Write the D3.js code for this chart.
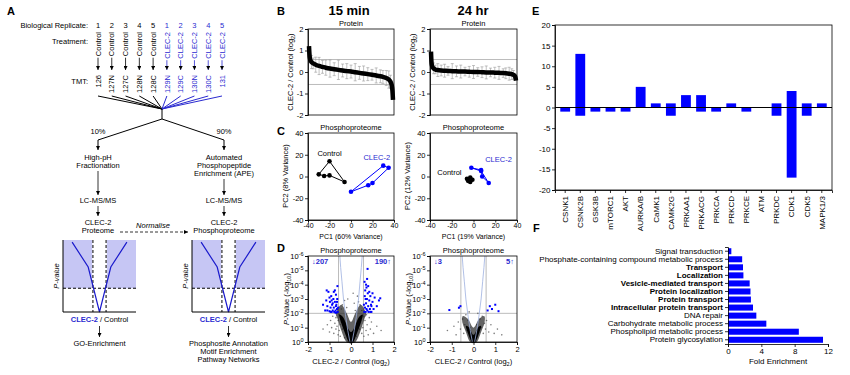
<!DOCTYPE html>
<html>
<head>
<meta charset="utf-8">
<script src="https://cdn.jsdelivr.net/npm/d3@7"></script>
<style>
  body { margin: 0; background: #fff; }
  text { font-family: "Liberation Sans", Arial, Helvetica, sans-serif; }
</style>
</head>
<body>
<svg id="fig" width="850" height="375"></svg>
<script>
// ---------- data ----------
const replicates = [1, 2, 3, 4, 5, 1, 2, 3, 4, 5];
const treatments = ['Control', 'Control', 'Control', 'Control', 'Control', 'CLEC-2', 'CLEC-2', 'CLEC-2', 'CLEC-2', 'CLEC-2'];
const tmtTags = ['126', '127N', '127C', '128N', '128C', '129N', '129C', '130N', '130C', '131'];

// schematic volcano (panel A), unitless
const schemCurve = [[-0.75, 0.97], [-0.31, 0.625], [0, 0], [0.31, 0.625], [0.75, 0.97]];

// B: ranked protein ratios (rank in % of proteins)
const rankPct = [0, 0.5, 1, 2, 3, 5, 8, 12, 16, 20, 25, 30, 35, 40, 45, 50, 55, 60, 65, 70, 75, 80, 85, 88, 92, 95, 97, 98.5, 99.3, 100];
const ratio15 = [1.2, 0.85, 0.65, 0.52, 0.46, 0.4, 0.34, 0.28, 0.24, 0.2, 0.16, 0.13, 0.1, 0.07, 0.04, 0.02, -0.01, -0.04, -0.07, -0.1, -0.13, -0.16, -0.2, -0.23, -0.28, -0.35, -0.45, -0.62, -0.85, -1.3];
const err15 = [0, 0, 0, 0, 0.3, 0.25, 0.35, 0.4, 0.3, 0.35, 0.4, 0.3, 0.45, 0.3, 0.35, 0.3, 0.4, 0.3, 0.35, 0.3, 0.25, 0.35, 0.3, 0.3, 0.35, 0.4, 0.3, 0, 0, 0];
const ratio24 = [0.95, 0.5, 0.32, 0.22, 0.17, 0.12, 0.09, 0.07, 0.06, 0.05, 0.04, 0.03, 0.02, 0.02, 0.01, 0, 0, -0.01, -0.02, -0.02, -0.03, -0.04, -0.05, -0.06, -0.08, -0.1, -0.13, -0.18, -0.25, -0.4];
const err24 = [0, 0, 0, 0, 0.25, 0.2, 0.3, 0.25, 0.3, 0.2, 0.35, 0.25, 0.3, 0.2, 0.25, 0.3, 0.2, 0.25, 0.3, 0.2, 0.25, 0.3, 0.2, 0.25, 0.3, 0.25, 0.2, 0, 0, 0];

// C: PCA scores (listed in outline order)
const pcaCtrl15 = [[-30, 2], [-20, 14], [-6, -5], [-20, 1], [-25, 0.5]];
const pcaClec15 = [[0, -14], [30, 10], [35, 8], [20, -6], [16, -8]];
const pcaCtrl24 = [[-6, -2], [-3, -1], [-1, -3], [-3, -5], [-5, -4]];
const pcaClec24 = [[-2, 8], [7, 6], [8, 0], [14, -6], [7, 5]];

// D: volcano, [log2 ratio, -log10 p]
const volGrey15 = [[-1.3, 0.9], [-1.1, 1.2], [-1.0, 0.7], [-0.95, 1.5], [-0.9, 1.0], [-0.85, 1.8], [-0.8, 0.6], [-0.75, 1.3], [-0.7, 0.9], [-0.7, 1.7], [-0.65, 1.1], [-0.6, 0.5], [-0.6, 1.5], [-0.55, 0.8], [-0.55, 1.9], [-0.5, 1.2], [-0.5, 0.4], [-0.45, 1.6], [-0.45, 2.3], [-0.4, 0.9], [-0.4, 2.6], [-0.35, 1.4], [-0.3, 2.9], [-0.3, 0.3], [-0.25, 1.9], [-0.2, 2.4], [-0.15, 3.0],
  [1.4, 0.8], [1.2, 1.1], [1.05, 0.6], [0.95, 1.4], [0.9, 0.9], [0.85, 1.7], [0.8, 0.5], [0.75, 1.2], [0.72, 1.9], [0.7, 0.8], [0.65, 1.5], [0.6, 0.4], [0.6, 1.8], [0.55, 1.0], [0.5, 2.2], [0.5, 0.6], [0.45, 1.5], [0.42, 2.6], [0.4, 0.9], [0.35, 2.8], [0.3, 1.3], [0.3, 3.2], [0.25, 0.4], [0.2, 2.2], [0.15, 2.7], [0.1, 3.4]];
const volBlue15 = [[-0.62, 2.1], [-0.65, 2.3], [-0.68, 2.05], [-0.7, 2.5], [-0.72, 2.2], [-0.75, 2.8], [-0.78, 2.1], [-0.8, 2.4], [-0.82, 3.0], [-0.85, 2.2], [-0.88, 2.6], [-0.9, 2.1], [-0.92, 3.2], [-0.95, 2.4], [-0.98, 2.8], [-1.0, 2.15], [-1.05, 3.5], [-1.1, 2.5], [-1.15, 2.9], [-1.2, 2.2], [-1.3, 2.6], [-0.65, 2.8], [-0.7, 3.3], [-0.75, 3.6], [-0.68, 2.6], [-0.64, 3.0], [-0.6, 2.4], [-0.63, 3.9], [-0.8, 3.5], [-0.9, 2.9], [-0.72, 2.05], [-0.85, 2.7], [-1.0, 3.1], [-1.1, 2.2], [-0.95, 2.1], [-1.13, 3.6],
  [0.62, 2.1], [0.65, 2.4], [0.68, 2.1], [0.7, 2.7], [0.72, 2.3], [0.74, 3.0], [0.76, 2.2], [0.78, 3.4], [0.8, 2.5], [0.82, 2.1], [0.85, 2.9], [0.88, 2.3], [0.9, 3.2], [0.93, 2.6], [0.95, 2.1], [1.0, 2.8], [1.05, 2.3], [1.1, 3.1], [1.2, 2.5], [1.3, 2.9], [1.36, 3.05], [0.66, 3.6], [0.7, 4.0], [0.75, 4.4], [0.77, 5.1], [0.64, 3.2], [0.68, 3.0], [0.72, 3.8], [0.8, 3.9], [0.85, 3.5], [0.6, 2.6], [0.9, 2.1], [1.0, 3.4], [0.63, 4.2], [0.95, 2.5]];
const volCoreOuter15 = [[-0.2, 0], [0.2, 0], [0.45, 0.8], [0.62, 1.6], [0.7, 2.0], [0.45, 2.6], [0.2, 2.0], [0, 1.4], [-0.2, 2.0], [-0.45, 2.6], [-0.7, 2.0], [-0.62, 1.6], [-0.45, 0.8]];
const volCoreInner15 = [[-0.1, 0], [0.1, 0], [0.3, 0.7], [0.45, 1.3], [0.55, 1.9], [0.35, 1.7], [0.15, 1.0], [0, 0.7], [-0.15, 1.0], [-0.35, 1.7], [-0.55, 1.9], [-0.45, 1.3], [-0.3, 0.7]];
const volGrey24 = [[-1.2, 0.8], [-0.9, 1.1], [-0.8, 0.5], [-0.7, 1.4], [-0.6, 0.9], [-0.5, 1.6], [-0.45, 0.6], [-0.4, 1.2], [-0.35, 1.9], [-0.3, 0.8], [-0.25, 1.5], [-0.2, 2.1], [-0.15, 1.0],
  [0.15, 1.2], [0.2, 2.0], [0.25, 0.7], [0.3, 1.6], [0.35, 1.0], [0.4, 1.8], [0.45, 0.6], [0.5, 1.3], [0.55, 0.9], [0.6, 1.5], [0.7, 0.7], [0.8, 1.2], [0.95, 0.6], [1.1, 0.9], [1.3, 0.5]];
const volBlue24 = [[-1.11, 2.23], [-0.67, 2.39], [-0.6, 2.5], [0.65, 2.2], [0.75, 2.5], [0.85, 2.3], [1.0, 2.6], [1.15, 2.15]];
const volCoreOuter24 = [[-0.15, 0], [0.15, 0], [0.35, 0.7], [0.5, 1.3], [0.5, 1.8], [0.25, 1.6], [0, 1.0], [-0.25, 1.6], [-0.5, 1.8], [-0.5, 1.3], [-0.35, 0.7]];
const volCoreInner24 = [[-0.08, 0], [0.08, 0], [0.25, 0.6], [0.35, 1.1], [0.2, 1.0], [0, 0.5], [-0.2, 1.0], [-0.35, 1.1], [-0.25, 0.6]];
const volGuide = [[0.05, 0], [0.15, 0.8], [0.25, 1.8], [0.35, 3.0], [0.42, 4.2], [0.48, 5.2], [0.52, 6]];
const volCounts15 = ['207', '190'];
const volCounts24 = ['3', '5'];

// E: kinase activity
const kinases = ['CSNK1', 'CSNK2B', 'GSK3B', 'mTORC1', 'AKT', 'AURKA/B', 'CaMK1', 'CAMK2G', 'PRKAA1', 'PRKACG', 'PRKCA', 'PRKCD', 'PRKCE', 'ATM', 'PRKDC', 'CDK1', 'CDK5', 'MAPK1/3'];
const kinUp = [0, 13, 0, 0, 0, 5, 1, 1, 3, 3, 0, 1, 0, 0, 1, 4, 1, 1];
const kinDown = [-1, -2, -1, -1, -1, 0, 0, -2, 0, -1, -1, 0, -1, 0, -2, -17, -2, 0];

// F: GO enrichment
const goTerms = ['Signal transduction', 'Phosphate-containing compound metabolic process', 'Transport', 'Localization', 'Vesicle-mediated transport', 'Protein localization', 'Protein transport', 'Intracellular protein transport', 'DNA repair', 'Carbohydrate metabolic process', 'Phospholipid metabolic process', 'Protein glycosylation'];
const goFold = [0.4, 1.7, 1.8, 1.85, 2.6, 2.7, 2.75, 3.0, 3.4, 4.6, 8.5, 11.4];
const goBold = [0, 0, 1, 1, 1, 1, 1, 1, 0, 0, 0, 0];

// ---------- helpers ----------
const FONT = '"Liberation Sans", Arial, Helvetica, sans-serif';
const FS = 7.5;
const BLUE = '#0000ff';
const TBLUE = '#2a2ad0';
const svg = d3.select('#fig');

const defs = svg.append('defs');
defs.append('marker').attr('id', 'arr')
  .attr('viewBox', '0 0 6 6').attr('refX', 6).attr('refY', 3)
  .attr('markerUnits', 'userSpaceOnUse')
  .attr('markerWidth', 4).attr('markerHeight', 4).attr('orient', 'auto')
  .append('path').attr('d', 'M0,0L6,3L0,6z').attr('fill', '#000');

const txt = (g, x, y, s, o = {}) => {
  const t = g.append('text').attr('x', x).attr('y', y).text(s)
    .attr('font-size', o.size || FS)
    .attr('text-anchor', o.anchor || 'middle')
    .attr('fill', o.fill || '#000');
  if (o.weight) t.attr('font-weight', o.weight);
  if (o.style) t.attr('font-style', o.style);
  if (o.rotate) t.attr('transform', `rotate(${o.rotate},${x},${y})`);
  return t;
};

const line = (g, x1, y1, x2, y2, o = {}) => g.append('line')
  .attr('x1', x1).attr('y1', y1).attr('x2', x2).attr('y2', y2)
  .attr('stroke', o.stroke || '#000').attr('stroke-width', o.w || 0.8)
  .attr('stroke-dasharray', o.dash || null)
  .attr('marker-end', o.arrow ? 'url(#arr)' : null);

const styleAxis = (g, size = FS) => {
  g.attr('font-size', size).attr('font-family', FONT);
  g.selectAll('.domain').attr('stroke-width', 0.8);
  g.selectAll('.tick line').attr('stroke-width', 0.8);
  return g;
};

const frame = (g, x0, y0, x1, y1) => g.append('rect')
  .attr('x', x0).attr('y', y0).attr('width', x1 - x0).attr('height', y1 - y0)
  .attr('fill', 'none').attr('stroke', '#000').attr('stroke-width', 0.8);

// ---------- panel A ----------
const a = svg.append('g');
txt(a, 7, 15, 'A', {size: 11, weight: 'bold', anchor: 'start'});
txt(a, 88, 28, 'Biological Replicate:', {anchor: 'end'});
txt(a, 88, 44, 'Treatment:', {anchor: 'end'});
txt(a, 88, 84, 'TMT:', {anchor: 'end'});

const colX = d3.scalePoint().domain(d3.range(tmtTags.length)).range([98, 222]);
tmtTags.forEach((tag, i) => {
  const x = colX(i);
  const col = i < 5 ? '#000' : TBLUE;
  txt(a, x, 28, replicates[i], {fill: col});
  const tr = txt(a, x + 2.7, 32, treatments[i], {anchor: 'end', fill: col, rotate: -90});
  const len = tr.node().getComputedTextLength();
  line(a, x, 32 + len + 1.5, x, 70, {stroke: col, arrow: true});
  txt(a, x + 2.7, 75, tag, {anchor: 'end', fill: col, rotate: -90});
  line(a, x, 96, 162, 109, {stroke: col, w: 1});
});
line(a, 162, 109, 162, 119, {w: 1});
a.append('path').attr('d', 'M162,119L98,140L98,150').attr('fill', 'none').attr('stroke', '#000').attr('stroke-width', 1).attr('marker-end', 'url(#arr)');
a.append('path').attr('d', 'M162,119L224,140L224,150').attr('fill', 'none').attr('stroke', '#000').attr('stroke-width', 1).attr('marker-end', 'url(#arr)');
txt(a, 98, 134, '10%');
txt(a, 224, 134, '90%');

txt(a, 98, 160, 'High-pH');
txt(a, 98, 168, 'Fractionation');
line(a, 98, 171, 98, 195, {arrow: true});
txt(a, 98, 203, 'LC-MS/MS');
line(a, 98, 206, 98, 216, {arrow: true});
txt(a, 98, 225, 'CLEC-2');
txt(a, 98, 233, 'Proteome');

txt(a, 224, 160, 'Automated');
txt(a, 224, 168, 'Phosphopeptide');
txt(a, 224, 176, 'Enrichment (APE)');
line(a, 224, 179, 224, 195, {arrow: true});
txt(a, 224, 203, 'LC-MS/MS');
line(a, 224, 206, 224, 216, {arrow: true});
txt(a, 224, 225, 'CLEC-2');
txt(a, 224, 233, 'Phosphoproteome');

txt(a, 153, 228, 'Normalise', {style: 'italic'});
line(a, 120, 232, 188, 232, {dash: '3,2', arrow: true});

const drawSchem = (cx, outLines) => {
  const x = d3.scaleLinear().domain([-1, 1]).range([cx - 36.5, cx + 36.5]);
  const y = d3.scaleLinear().domain([0, 1]).range([312, 240]);
  a.append('rect').attr('x', x(-1)).attr('y', y(1)).attr('width', x(-0.2) - x(-1)).attr('height', y(0.33) - y(1)).attr('fill', '#c6c6f4');
  a.append('rect').attr('x', x(0.2)).attr('y', y(1)).attr('width', x(1) - x(0.2)).attr('height', y(0.33) - y(1)).attr('fill', '#c6c6f4');
  line(a, x(-1), y(0.33), x(1), y(0.33), {dash: '3,2', w: 1});
  line(a, x(-0.18), y(1), x(-0.18), y(0), {dash: '3,2', w: 1});
  line(a, x(0.18), y(1), x(0.18), y(0), {dash: '3,2', w: 1});
  a.append('path').datum(schemCurve)
    .attr('d', d3.line().x(d => x(d[0])).y(d => y(d[1])))
    .attr('fill', 'none').attr('stroke', '#1a1acc').attr('stroke-width', 1.2);
  line(a, x(-1), y(1), x(-1), y(0), {w: 1});
  line(a, x(-1), y(0), x(1), y(0), {w: 1});
  txt(a, x(-1) - 4, 276, 'P-value', {style: 'italic', rotate: -90});
  const lab = a.append('text').attr('x', cx).attr('y', 322).attr('text-anchor', 'middle').attr('font-size', FS);
  lab.append('tspan').attr('fill', TBLUE).attr('font-weight', 'bold').text('CLEC-2');
  lab.append('tspan').text(' / Control');
  line(a, cx, 326, cx, 337, {arrow: true});
  outLines.forEach((s, i) => txt(a, cx, 346 + i * 8, s));
};
drawSchem(99.5, ['GO-Enrichment']);
drawSchem(228.5, ['Phosphosite Annotation', 'Motif Enrichment', 'Pathway Networks']);

// ---------- panel B ----------
const b = svg.append('g');
txt(b, 277, 15, 'B', {size: 11, weight: 'bold', anchor: 'start'});
txt(b, 349, 15, '15 min', {size: 13, weight: 'bold'});
txt(b, 473, 15, '24 hr', {size: 13, weight: 'bold'});

const ylabLog2 = (g, x, y) => {
  const t = g.append('text').attr('transform', `translate(${x},${y}) rotate(-90)`).attr('text-anchor', 'middle').attr('font-size', FS);
  t.append('tspan').text('CLEC-2 / Control (log');
  t.append('tspan').attr('font-size', 5.5).attr('dy', 2).text('2');
  t.append('tspan').attr('dy', -2).text(')');
};

const rankPlot = (x0, x1, vals, errs) => {
  const g = svg.append('g');
  const x = d3.scaleLinear().domain([0, 100]).range([x0 + 1, x1 - 1]);
  const y = d3.scaleLinear().domain([-2, 2]).range([115, 29]);
  txt(g, (x0 + x1) / 2, 26, 'Protein');
  line(g, x0, y(0.58), x1, y(0.58), {stroke: '#aaa'});
  line(g, x0, y(-0.58), x1, y(-0.58), {stroke: '#aaa'});
  rankPct.forEach((r, i) => {
    if (!errs[i]) return;
    const xx = x(r), lo = y(vals[i] - errs[i]), hi = y(vals[i] + errs[i]);
    line(g, xx, lo, xx, hi, {stroke: '#999', w: 0.6});
    line(g, xx - 1.5, lo, xx + 1.5, lo, {stroke: '#999', w: 0.6});
    line(g, xx - 1.5, hi, xx + 1.5, hi, {stroke: '#999', w: 0.6});
  });
  g.append('path').datum(rankPct.map((r, i) => [r, vals[i]]))
    .attr('d', d3.line().curve(d3.curveMonotoneX).x(d => x(d[0])).y(d => y(d[1])))
    .attr('fill', 'none').attr('stroke', '#000').attr('stroke-width', 4.5);
  frame(g, x0, 29, x1, 115);
  styleAxis(g.append('g').attr('transform', `translate(${x0},0)`)
    .call(d3.axisLeft(y).tickValues([-2, -1, 0, 1, 2]).tickSize(3).tickPadding(1.5).tickFormat(d => String(d))));
  ylabLog2(g, x0 - 15, 72);
};
rankPlot(308, 394, ratio15, err15);
rankPlot(430, 517, ratio24, err24);

// ---------- panel C ----------
txt(svg, 277, 135, 'C', {size: 11, weight: 'bold', anchor: 'start'});
const pcaPlot = (x0, x1, ctrl, clec, xlab, ylab, labs) => {
  const g = svg.append('g');
  const x = d3.scaleLinear().domain([-40, 40]).range([x0, x1]);
  const y = d3.scaleLinear().domain([-40, 40]).range([220, 133]);
  txt(g, (x0 + x1) / 2, 130, 'Phosphoproteome');
  frame(g, x0, 133, x1, 220);
  styleAxis(g.append('g').attr('transform', `translate(${x0},0)`)
    .call(d3.axisLeft(y).tickValues([-40, -20, 0, 20, 40]).tickSize(3).tickPadding(1.5).tickFormat(d => String(d))));
  styleAxis(g.append('g').attr('transform', 'translate(0,220)')
    .call(d3.axisBottom(x).tickValues([-40, -20, 0, 20, 40]).tickSize(2.5).tickPadding(1).tickFormat(d => String(d))), 7);
  [[ctrl, '#000'], [clec, BLUE]].forEach(([pts, col]) => {
    g.append('path').datum(pts)
      .attr('d', d3.line().x(d => x(d[0])).y(d => y(d[1])).curve(d3.curveLinearClosed))
      .attr('fill', 'none').attr('stroke', col).attr('stroke-width', 1);
    g.selectAll(null).data(pts).join('circle')
      .attr('cx', d => x(d[0])).attr('cy', d => y(d[1])).attr('r', 2.3).attr('fill', col);
  });
  txt(g, x(labs[0][0]), y(labs[0][1]), 'Control', {anchor: labs[0][2]});
  txt(g, x(labs[1][0]), y(labs[1][1]), 'CLEC-2', {fill: TBLUE, anchor: labs[1][2]});
  txt(g, (x0 + x1) / 2, 239, xlab, {size: 7});
  txt(g, x0 - 20, 176, ylab, {rotate: -90});
};
pcaPlot(308, 394, pcaCtrl15, pcaClec15, 'PC1 (60% Variance)', 'PC2 (8% Variance)', [[-20, 19, 'middle'], [24, 15, 'middle']]);
pcaPlot(430, 517, pcaCtrl24, pcaClec24, 'PC1 (19% Variance)', 'PC2 (12% Variance)', [[-11, 1, 'end'], [23, 13, 'middle']]);

// ---------- panel D ----------
txt(svg, 277, 252, 'D', {size: 11, weight: 'bold', anchor: 'start'});
const volcano = (x0, x1, grey, blue, outer, inner, counts) => {
  const g = svg.append('g');
  const x = d3.scaleLinear().domain([-2, 2]).range([x0, x1]);
  const y = d3.scaleLinear().domain([0, 6]).range([342, 256]);
  const ln = d3.line().x(d => x(d[0])).y(d => y(d[1]));
  txt(g, (x0 + x1) / 2, 253, 'Phosphoproteome');
  line(g, x(-0.58), 256, x(-0.58), 342, {stroke: '#aaa'});
  line(g, x(0.58), 256, x(0.58), 342, {stroke: '#aaa'});
  line(g, x0, y(2), x1, y(2), {stroke: '#aaa'});
  g.selectAll(null).data(grey).join('circle')
    .attr('cx', d => x(d[0])).attr('cy', d => y(d[1])).attr('r', 0.8).attr('fill', '#444').attr('opacity', 0.7);
  g.append('path').datum(outer).attr('d', ln.curve(d3.curveCardinalClosed)).attr('fill', '#222').attr('opacity', 0.7);
  g.append('path').datum(inner).attr('d', ln.curve(d3.curveCardinalClosed)).attr('fill', '#000');
  ln.curve(d3.curveLinear);
  g.append('path').datum(volGuide).attr('d', ln).attr('fill', 'none').attr('stroke', '#9db0e0').attr('stroke-width', 0.8);
  g.append('path').datum(volGuide.map(d => [-d[0], d[1]])).attr('d', ln).attr('fill', 'none').attr('stroke', '#9db0e0').attr('stroke-width', 0.8);
  g.selectAll(null).data(blue).join('rect')
    .attr('x', d => x(d[0]) - 1).attr('y', d => y(d[1]) - 1).attr('width', 2).attr('height', 2).attr('fill', BLUE);
  frame(g, x0, 256, x1, 342);
  const ya = styleAxis(g.append('g').attr('transform', `translate(${x0},0)`)
    .call(d3.axisLeft(y).tickValues(d3.range(0, 7)).tickSize(3).tickPadding(1.5)));
  ya.selectAll('.tick text').each(function (d) {
    const t = d3.select(this).text('');
    t.append('tspan').text('10');
    t.append('tspan').attr('dy', -3).attr('font-size', 5.5).text(d === 0 ? '0' : '-' + d);
  });
  styleAxis(g.append('g').attr('transform', 'translate(0,342)')
    .call(d3.axisBottom(x).tickValues([-2, -1, 0, 1, 2]).tickSize(3).tickPadding(1.5).tickFormat(d => String(d))));
  txt(g, x0 + 4, 264, '\u2193' + counts[0], {anchor: 'start', fill: TBLUE, weight: 'bold'});
  txt(g, x1 - 3, 264, counts[1] + '\u2191', {anchor: 'end', fill: TBLUE, weight: 'bold'});
  const xl = g.append('text').attr('x', (x0 + x1) / 2).attr('y', 364).attr('text-anchor', 'middle').attr('font-size', FS);
  xl.append('tspan').text('CLEC-2 / Control (log');
  xl.append('tspan').attr('font-size', 5.5).attr('dy', 2).text('2');
  xl.append('tspan').attr('dy', -2).text(')');
  const yl = g.append('text').attr('transform', `translate(${x0 - 19},299) rotate(-90)`).attr('text-anchor', 'middle').attr('font-size', FS);
  yl.append('tspan').attr('font-style', 'italic').text('P');
  yl.append('tspan').text('-Value (-log');
  yl.append('tspan').attr('font-size', 5.5).attr('dy', 2).text('10');
  yl.append('tspan').attr('dy', -2).text(')');
};
volcano(308, 394, volGrey15, volBlue15, volCoreOuter15, volCoreInner15, volCounts15);
volcano(430, 517, volGrey24, volBlue24, volCoreOuter24, volCoreInner24, volCounts24);

// ---------- panel E ----------
const e = svg.append('g');
txt(e, 532, 15, 'E', {size: 11, weight: 'bold', anchor: 'start'});
const ex = d3.scaleBand().domain(kinases).range([555, 832]).padding(0.35);
const ey = d3.scaleLinear().domain([-20, 20]).range([190, 25]);
e.selectAll(null).data(kinases).join('rect')
  .attr('x', d => ex(d)).attr('width', ex.bandwidth())
  .attr('y', (d, i) => ey(kinUp[i])).attr('height', (d, i) => ey(0) - ey(kinUp[i]))
  .attr('fill', BLUE);
e.selectAll(null).data(kinases).join('rect')
  .attr('x', d => ex(d)).attr('width', ex.bandwidth())
  .attr('y', ey(0)).attr('height', (d, i) => ey(kinDown[i]) - ey(0))
  .attr('fill', BLUE);
line(e, 555, ey(0), 832, ey(0), {w: 1});
frame(e, 555, 25, 832, 190);
styleAxis(e.append('g').attr('transform', 'translate(555,0)')
  .call(d3.axisLeft(ey).tickValues(d3.range(-20, 21, 5)).tickSize(3).tickPadding(1.5).tickFormat(d => String(d))), 8);
const exa = styleAxis(e.append('g').attr('transform', 'translate(0,190)')
  .call(d3.axisBottom(ex).tickSize(3).tickPadding(2)), 8);
exa.selectAll('.tick text')
  .attr('transform', 'rotate(-90)').attr('text-anchor', 'end')
  .attr('x', -6).attr('y', 0).attr('dy', '0.35em');

// ---------- panel F ----------
const f = svg.append('g');
txt(f, 533, 232, 'F', {size: 11, weight: 'bold', anchor: 'start'});
const fy = d3.scaleBand().domain(goTerms).range([247, 344]).paddingInner(0.25).paddingOuter(0.15);
const fx = d3.scaleLinear().domain([0, 12]).range([728, 828]);
f.selectAll(null).data(goTerms).join('rect')
  .attr('x', fx(0)).attr('y', d => fy(d))
  .attr('width', (d, i) => fx(goFold[i]) - fx(0)).attr('height', fy.bandwidth())
  .attr('fill', BLUE);
const fya = styleAxis(f.append('g').attr('transform', 'translate(728,0)')
  .call(d3.axisLeft(fy).tickSize(3).tickPadding(2)), 8);
fya.selectAll('.tick text').attr('font-weight', (d, i) => goBold[i] ? 'bold' : null);
styleAxis(f.append('g').attr('transform', 'translate(0,344)')
  .call(d3.axisBottom(fx).tickValues([0, 4, 8, 12]).tickSize(3).tickPadding(1.5)), 8);
txt(f, 778, 364, 'Fold Enrichment', {size: 8});
</script>
</body>
</html>
